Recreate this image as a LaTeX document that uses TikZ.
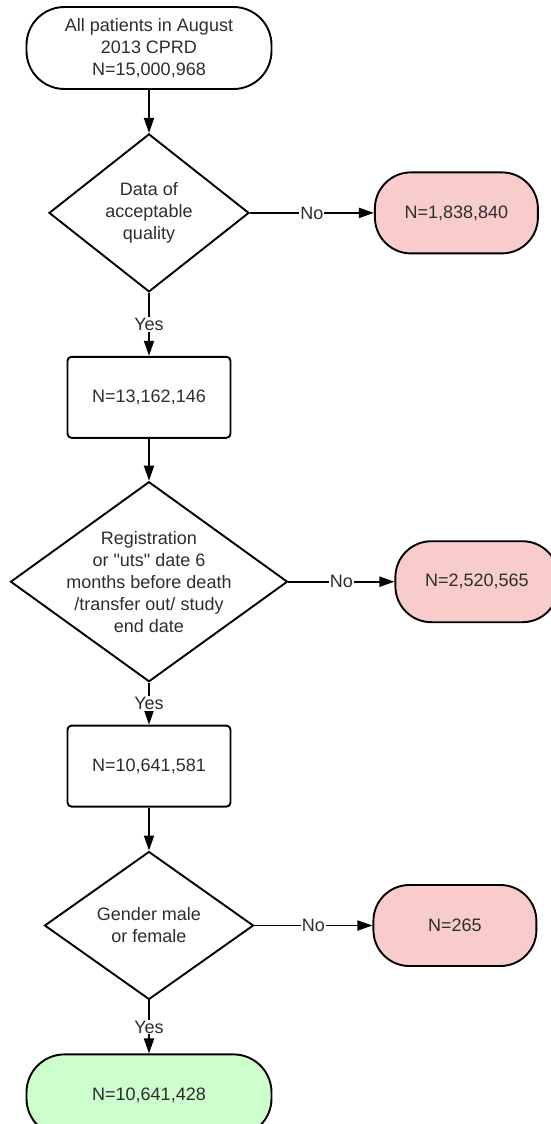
\documentclass[tikz,border=0pt]{standalone}
\usepackage{fontspec}
\setmainfont{Liberation Sans}
\usetikzlibrary{shapes,arrows.meta}
\usetikzlibrary{positioning}
\definecolor{outpink}{RGB}{249,204,204}
\definecolor{keepgreen}{RGB}{204,255,204}
\definecolor{inkgray}{RGB}{45,45,45}
\tikzstyle{block} = [rectangle, draw, rounded corners=4pt, minimum width=163pt, minimum height=81pt]
\tikzstyle{terminal} = [rectangle, draw, rounded corners=38pt, minimum width=245pt, minimum height=82pt]
\tikzstyle{excluded} = [rectangle, draw, rounded corners=36pt, fill=outpink, minimum width=163pt, minimum height=81pt]
\tikzstyle{decision} = [diamond, draw, inner sep=-20pt]
\tikzstyle{line} = [draw, -{Triangle[length=15pt,width=10pt]}]
\tikzstyle{answer} = [fill=white, inner sep=1pt]

\begin{document}
\begin{tikzpicture}[every text node part/.style={align=center}, font=\fontsize{18}{22}\selectfont, line width=1.9pt, text=inkgray]
   \useasboundingbox (0,0) rectangle (551pt,-1124pt);
   % Place nodes
   \node [terminal] (all) at (149pt,-48pt) {All patients in August \\ 2013 CPRD \\ N=15,000,968};
   \node [decision, minimum width=200pt, minimum height=158pt, below = 43pt of all] (quality) {Data of \\ acceptable \\ quality};
   \node [excluded, right = 124pt of quality] (out-quality) {N=1,838,840};
   \node [block, below = 63pt of quality] (n-quality) {N=13,162,146};
   \node [decision, minimum width=277pt, minimum height=200pt, below = 42pt of n-quality] (registration) {Registration \\ or \textquotedbl uts\textquotedbl{} date 6 \\ months before death \\ /transfer out/ study \\ end date};
   \node [excluded, right = 106pt of registration] (out-reg) {N=2,520,565};
   \node [block, below = 42pt of registration] (n-reg) {N=10,641,581};
   \node [decision, minimum width=209pt, minimum height=148pt, below = 43pt of n-reg] (gender) {Gender male \\ or female};
   \node [excluded, right = 118pt of gender] (out-gender) {N=265};
   \node [terminal, fill=keepgreen, below = 53pt of gender] (final) {N=10,641,428};
   % Connectors
   \draw[line] (all) to (quality);
   \draw[line] (quality) to node [answer] {No} (out-quality);
   \draw[line] (quality) to node [answer] {Yes} (n-quality);
   \draw[line] (n-quality) to (registration);
   \draw[line] (registration) to node [answer] {No} (out-reg);
   \draw[line] (registration) to node [answer] {Yes} (n-reg);
   \draw[line] (n-reg) to (gender);
   \draw[line] (gender) to node [answer] {No} (out-gender);
   \draw[line] (gender) to node [answer] {Yes} (final);
\end{tikzpicture}
\end{document}
